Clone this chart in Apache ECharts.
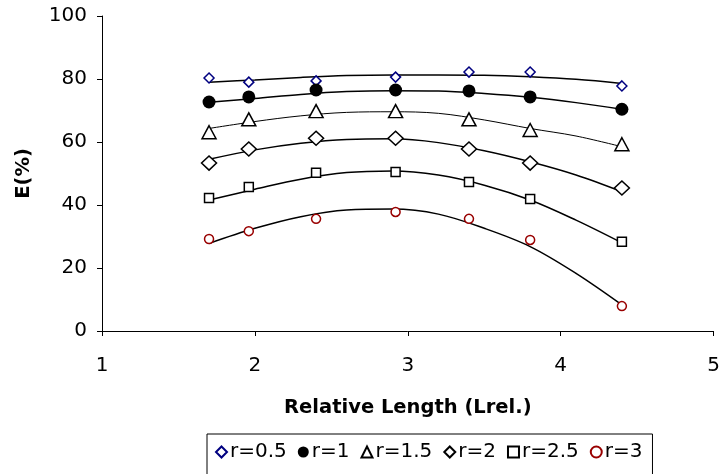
<!DOCTYPE html>
<html>
<head>
<meta charset="utf-8">
<script src="https://cdn.jsdelivr.net/npm/echarts@6/dist/echarts.min.js"></script>
<style>html,body{margin:0;padding:0;background:#fff}#c{width:723px;height:474px}</style>
</head>
<body>
<div id="c"></div>
<script>
// Relative length positions of the measured points
const xValues = [1.7, 1.96, 2.4, 2.92, 3.4, 3.8, 4.4];
const seriesNames = ['r=0.5', 'r=1', 'r=1.5', 'r=2', 'r=2.5', 'r=3'];
// Measured efficiencies E(%)
const r05 = [80.3, 79.0, 79.4, 80.6, 82.2, 82.2, 77.8];
const r1  = [72.7, 74.3, 76.5, 76.5, 76.2, 74.3, 70.4];
const r15 = [63.1, 67.2, 69.8, 69.8, 67.2, 63.8, 59.3];
const r2  = [53.3, 57.8, 61.2, 61.2, 57.8, 53.3, 45.4];
const r25 = [42.2, 45.7, 50.2, 50.5, 47.3, 41.9, 28.3];
const r3  = [29.2, 31.7, 35.6, 37.8, 35.6, 28.9, 7.9];
// Trendline values at these x positions
const trendX = [1.7, 2.0, 2.3, 2.6, 2.9, 3.2, 3.5, 3.8, 4.1, 4.4];
const t05 = [79.0, 79.7, 80.5, 81.1, 81.3, 81.3, 81.2, 80.7, 79.9, 78.6];
const t1  = [72.6, 73.8, 75.1, 76.0, 76.3, 76.2, 75.4, 74.2, 72.5, 70.4];
const t15 = [64.3, 66.5, 68.3, 69.4, 69.6, 69.1, 67.0, 64.3, 61.9, 58.5];
const t2  = [54.5, 57.5, 59.6, 60.8, 61.0, 59.8, 57.2, 53.7, 49.5, 44.2];
const t25 = [41.6, 45.0, 48.2, 50.3, 50.8, 49.5, 46.3, 41.6, 35.2, 28.0];
const t3  = [27.8, 32.6, 36.3, 38.4, 38.7, 37.1, 32.6, 26.8, 18.3, 8.3];
const xTicks = [1, 2, 3, 4, 5];
const yTicks = [0, 20, 40, 60, 80, 100];

const measured = [r05, r1, r15, r2, r25, r3];
const trends = [t05, t1, t15, t2, t25, t3];
const styles = [
  {symbol: 'diamond', size: [10, 10], color: '#fff', border: '#000080', bw: 1.5, lw: 1.5},
  {symbol: 'circle', size: 13, color: '#000', border: '#000', bw: 0, lw: 1.5},
  {symbol: 'triangle', size: [14, 13], color: '#fff', border: '#000', bw: 1.5, lw: 1},
  {symbol: 'diamond', size: [15, 14], color: '#fff', border: '#000', bw: 1.5, lw: 1.5},
  {symbol: 'rect', size: [9, 9], color: '#fff', border: '#000', bw: 1.5, lw: 1.5},
  {symbol: 'circle', size: 9, color: '#fff', border: '#990000', bw: 1.5, lw: 1.5}
];
const pair = (xs, ys) => xs.map((x, i) => [x, ys[i]]);

const series = [];
trends.forEach((t, i) => {
  series.push({
    type: 'line', name: 'trend' + i, data: pair(trendX, t), smooth: 0.35,
    showSymbol: false, symbol: 'none',
    lineStyle: {color: '#000', width: styles[i].lw}, z: 2, silent: true
  });
});
measured.forEach((m, i) => {
  const s = styles[i];
  series.push({
    type: 'scatter', name: seriesNames[i], data: pair(xValues, m), symbol: s.symbol, symbolSize: s.size,
    itemStyle: {color: s.color, borderColor: s.border, borderWidth: s.bw, opacity: 1}, z: 5
  });
});

const font = '"DejaVu Sans", sans-serif';
const chart = echarts.init(document.getElementById('c'), null, {renderer: 'canvas'});
chart.setOption({
  animation: false,
  backgroundColor: '#fff',
  grid: {left: 102, right: 5, top: 16, bottom: 143, containLabel: false},
  xAxis: {
    type: 'value', min: xTicks[0], max: xTicks[xTicks.length - 1], interval: 1,
    name: 'Relative Length (Lrel.)', nameLocation: 'middle', nameGap: 67,
    nameTextStyle: {fontFamily: font, fontSize: 19.5, fontWeight: 'bold', color: '#000'},
    axisLine: {lineStyle: {color: '#000', width: 1}},
    axisTick: {show: true, length: 5, inside: false, lineStyle: {color: '#000'}},
    axisLabel: {fontFamily: font, fontSize: 20, color: '#000', margin: 25, showMaxLabel: true, showMinLabel: true},
    splitLine: {show: false}
  },
  yAxis: {
    type: 'value', min: yTicks[0], max: yTicks[yTicks.length - 1], interval: 20,
    name: 'E(%)', nameLocation: 'middle', nameGap: 68, nameRotate: 90,
    nameTextStyle: {fontFamily: font, fontSize: 19.5, fontWeight: 'bold', color: '#000'},
    axisLine: {show: true, lineStyle: {color: '#000', width: 1}},
    axisTick: {show: true, length: 5, inside: false, lineStyle: {color: '#000'}},
    axisLabel: {fontFamily: font, fontSize: 20, color: '#000', margin: 15},
    splitLine: {show: false}
  },
  legend: {
    data: seriesNames,
    left: 207, top: 434,
    orient: 'horizontal',
    itemWidth: 11, itemHeight: 11, itemGap: 11,
    padding: [8, 10, 30, 8],
    borderColor: '#000', borderWidth: 1,
    textStyle: {fontFamily: font, fontSize: 20, color: '#000', padding: [0, 0, 0, -2]}
  },
  series: series
});
</script>
</body>
</html>
